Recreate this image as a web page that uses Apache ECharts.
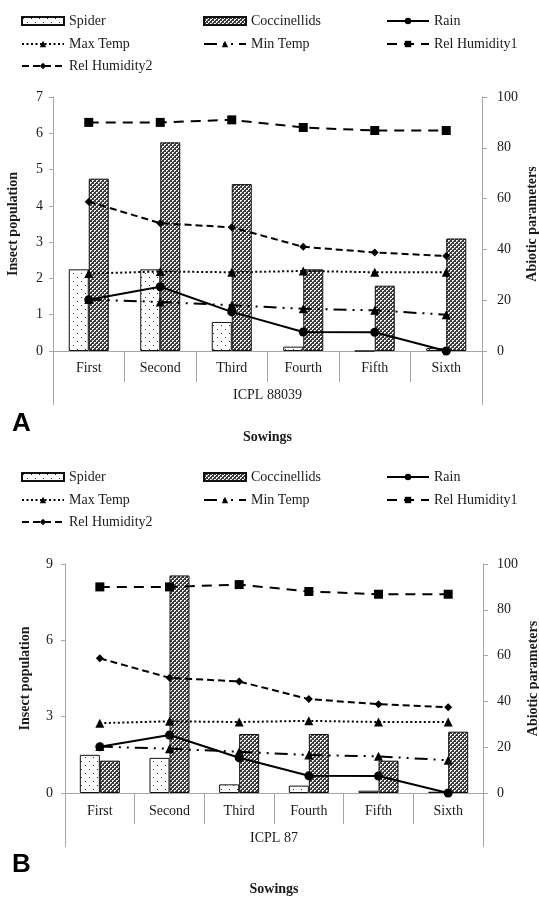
<!DOCTYPE html>
<html>
<head>
<meta charset="utf-8">
<script src="https://cdn.jsdelivr.net/npm/echarts@6/dist/echarts.min.js"></script>
<style>
html,body{margin:0;padding:0;background:#fff;}
#chart{width:539px;height:897px;}
</style>
</head>
<body>
<div id="chart"></div>
<script>
// ---------- data ----------
const categories = ['First', 'Second', 'Third', 'Fourth', 'Fifth', 'Sixth'];
const groupA = ['ICPL 88039'];
const groupB = ['ICPL 87'];
const spiderA = [2.25, 2.25, 0.8, 0.12, 0, 0.08];
const coccA = [4.75, 5.75, 4.6, 2.25, 1.8, 3.1];
const spiderB = [1.5, 1.38, 0.34, 0.29, 0.09, 0.05];
const coccB = [1.27, 8.55, 2.32, 2.32, 1.27, 2.41];
const rain = [20.2, 25.3, 15.4, 7.5, 7.4, 0];
const maxTemp = [30.5, 31.3, 31, 31.5, 31, 31];
const minTemp = [20.3, 19.3, 18, 16.6, 16, 14.3];
const relHum1 = [90, 90, 91, 88, 86.8, 86.8];
const relHum2 = [58.8, 50.3, 48.7, 41, 38.8, 37.4];
const leftTicksA = [0, 7, 1];
const leftTicksB = [0, 9, 3];
const rightTicks = [0, 100, 20];

// ---------- patterns ----------
function spiderPattern() {
  const c = document.createElement('canvas');
  c.width = 8; c.height = 8;
  const g = c.getContext('2d');
  g.fillStyle = '#ffffff'; g.fillRect(0, 0, 8, 8);
  g.fillStyle = '#333333';
  g.fillRect(1, 1, 1, 1);
  g.fillRect(5, 5, 1, 1);
  return { image: c, repeat: 'repeat' };
}
function coccPattern() {
  const c = document.createElement('canvas');
  c.width = 4; c.height = 4;
  const g = c.getContext('2d');
  g.fillStyle = '#3c3c3c'; g.fillRect(0, 0, 4, 4);
  g.fillStyle = '#f4f4f4';
  g.fillRect(0, 0, 2, 1); g.fillRect(0, 1, 1, 1);
  g.fillRect(2, 2, 2, 1); g.fillRect(2, 3, 1, 1);
  return { image: c, repeat: 'repeat' };
}

const FONT = 'Liberation Serif';
const AXIS_GRAY = '#a6a6a6';
const TXT = '#1a1a1a';

const panels = [
  { grid: { left: 53, right: 57, top: 97, height: 254 }, spider: spiderA, cocc: coccA, group: groupA, lt: leftTicksA, lm: 10, rm: 15, catM: 10, grpM: 37 },
  { grid: { left: 65, right: 56, top: 564, height: 229 }, spider: spiderB, cocc: coccB, group: groupB, lt: leftTicksB, lm: 12, rm: 14, catM: 11, grpM: 38 }
];

const grids = [], xAxes = [], yAxes = [], series = [];
panels.forEach((p, i) => {
  grids.push(Object.assign({ outerBoundsMode: 'none', containLabel: false }, p.grid));
  xAxes.push({
    type: 'category', gridIndex: i, data: categories, position: 'bottom',
    axisLine: { show: true, lineStyle: { color: AXIS_GRAY, width: 1 } },
    axisTick: { show: true, interval: 0, length: 31, lineStyle: { color: AXIS_GRAY } },
    axisLabel: { interval: 0, margin: p.catM, fontFamily: FONT, fontSize: 14, color: TXT },
    splitLine: { show: false }
  });
  xAxes.push({
    type: 'category', gridIndex: i, data: p.group, position: 'bottom',
    axisLine: { show: false },
    axisTick: { show: true, length: 54, lineStyle: { color: AXIS_GRAY } },
    axisLabel: { margin: p.grpM, fontFamily: FONT, fontSize: 14, color: TXT },
    splitLine: { show: false }
  });
  yAxes.push({
    type: 'value', gridIndex: i, position: 'left', min: p.lt[0], max: p.lt[1], interval: p.lt[2],
    name: 'Insect population', nameLocation: 'middle', nameGap: 33, nameRotate: 90, nameMoveOverlap: false,
    nameTextStyle: { fontFamily: FONT, fontSize: 14, fontWeight: 'bold', color: TXT },
    axisLine: { show: true, lineStyle: { color: AXIS_GRAY } },
    axisTick: { show: true, length: 4, lineStyle: { color: AXIS_GRAY } },
    axisLabel: { margin: p.lm, fontFamily: FONT, fontSize: 14, color: TXT },
    splitLine: { show: false }
  });
  yAxes.push({
    type: 'value', gridIndex: i, position: 'right', min: rightTicks[0], max: rightTicks[1], interval: rightTicks[2],
    name: 'Abiotic parameters', nameLocation: 'middle', nameGap: 43, nameRotate: 90, nameMoveOverlap: false,
    nameTextStyle: { fontFamily: FONT, fontSize: 14, fontWeight: 'bold', color: TXT },
    axisLine: { show: true, lineStyle: { color: AXIS_GRAY } },
    axisTick: { show: true, length: 5, lineStyle: { color: AXIS_GRAY } },
    axisLabel: { margin: p.rm, fontFamily: FONT, fontSize: 14, color: TXT },
    splitLine: { show: false }
  });
  const xi = i * 2, yl = i * 2, yr = i * 2 + 1;
  series.push({
    name: 'Spider', type: 'bar', xAxisIndex: xi, yAxisIndex: yl, data: p.spider,
    barWidth: 20, barGap: '0%',
    itemStyle: { color: spiderPattern(), borderColor: '#111', borderWidth: 1 }
  });
  series.push({
    name: 'Coccinellids', type: 'bar', xAxisIndex: xi, yAxisIndex: yl, data: p.cocc,
    barWidth: 20, barGap: '0%',
    itemStyle: { color: coccPattern(), borderColor: '#111', borderWidth: 1 }
  });
  const lineBase = (name, data, symbol, size, type) => ({
    name, type: 'line', xAxisIndex: xi, yAxisIndex: yr, data,
    symbol, symbolSize: size, z: 5,
    itemStyle: { color: '#000' },
    lineStyle: { color: '#000', width: 2, type }
  });
  series.push(lineBase('Rain', rain, 'circle', 9, 'solid'));
  series.push(lineBase('Max Temp', maxTemp, 'triangle', 9, [2, 2.5]));
  series.push(lineBase('Min Temp', minTemp, 'triangle', 9, [13, 6, 2, 6, 2, 6]));
  series.push(lineBase('Rel Humidity1', relHum1, 'rect', 9, [10, 7]));
  series.push(lineBase('Rel Humidity2', relHum2, 'diamond', 8, [7, 4]));
});

// legend layout: [name, left, rowCenterY, icon]
const legendLayout = [
  ['Spider', 21, 22, 'rect'], ['Coccinellids', 203, 22, 'rect'], ['Rain', 386, 22, null],
  ['Max Temp', 21, 45, null], ['Min Temp', 203, 45, null], ['Rel Humidity1', 386, 45, null],
  ['Rel Humidity2', 21, 67, null]
];
const legendOffsets = [0, 456];
const legends = [];
legendOffsets.forEach(off => {
  legendLayout.forEach(([name, left, y, icon]) => {
    const item = icon ? { name, icon } : { name };
    legends.push({
      data: [item], left, top: y + off - 8, orient: 'horizontal', padding: 0,
      itemWidth: 42, itemHeight: 8, itemGap: 0, selectedMode: false,
      textStyle: { fontFamily: FONT, fontSize: 14, color: TXT }
    });
  });
});

const graphics = [
  { type: 'text', left: 12, top: 411, style: { text: 'A', font: 'bold 26px "Liberation Sans"', fill: '#000' } },
  { type: 'text', left: 12, top: 852, style: { text: 'B', font: 'bold 26px "Liberation Sans"', fill: '#000' } },
  { type: 'text', x: 267.5, y: 437, style: { text: 'Sowings', font: 'bold 14px "Liberation Serif"', fill: TXT, align: 'center', verticalAlign: 'middle' } },
  { type: 'text', x: 274, y: 889, style: { text: 'Sowings', font: 'bold 14px "Liberation Serif"', fill: TXT, align: 'center', verticalAlign: 'middle' } }
];

const chart = echarts.init(document.getElementById('chart'), null, { renderer: 'canvas' });
chart.setOption({
  animation: false,
  backgroundColor: '#fff',
  grid: grids,
  xAxis: xAxes,
  yAxis: yAxes,
  legend: legends,
  series,
  graphic: graphics
});
</script>
</body>
</html>
